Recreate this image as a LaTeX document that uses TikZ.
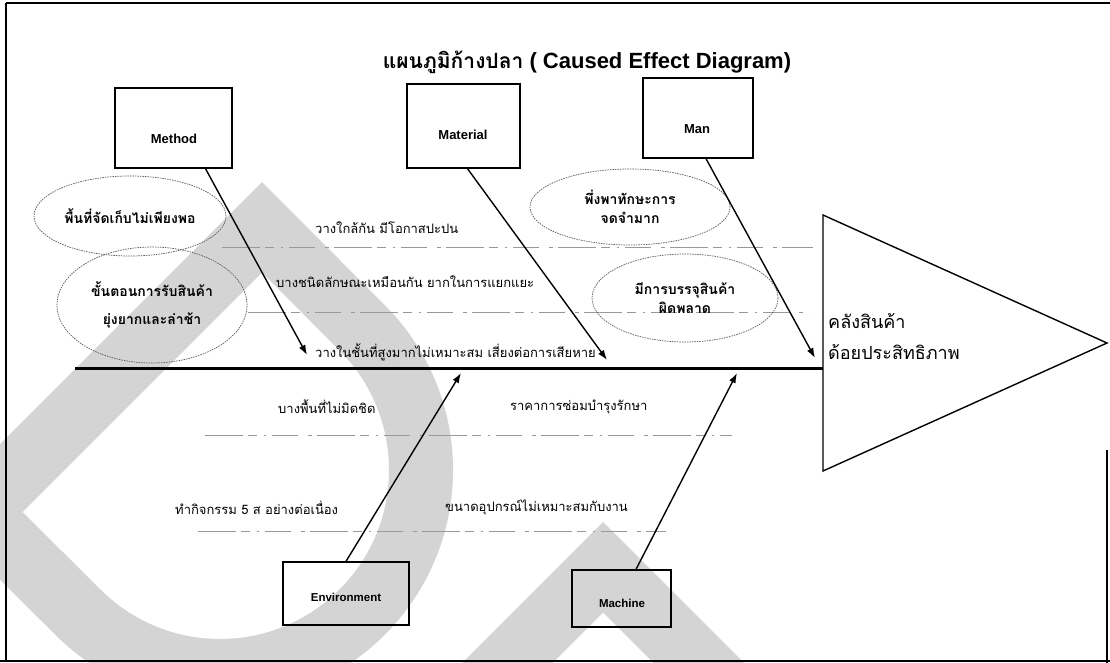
\documentclass[tikz,border=0pt]{standalone}
\usepackage{fontspec}
\setmainfont{Liberation Sans}
\newfontfamily\thai[Script=Thai]{Loma}
\usetikzlibrary{arrows.meta,shapes.geometric,calc}

\begin{document}
\begin{tikzpicture}[x=1pt,y=-1pt,
  every node/.style={inner sep=0pt},
  catbox/.style={draw=black, line width=1.3pt},
  catlabel/.style={font=\bfseries\fontsize{13}{15}\selectfont},
  causeoval/.style={ellipse, draw=black!65, line width=0.7pt,
    dash pattern=on 1.5pt off 1pt, align=center,
    font=\thai\bfseries\fontsize{14}{19}\selectfont},
  subcause/.style={anchor=west, font=\thai\fontsize{13}{15}\selectfont},
  bone/.style={line width=1.4pt, -{Latex[length=10pt,width=7pt]}},
  guide/.style={black!40, line width=0.6pt,
    dash pattern=on 38pt off 5pt on 9pt off 7pt on 2pt off 6pt on 26pt off 10pt on 4pt off 5pt},
  wmark/.style={black!17}
]
\useasboundingbox (0,0) rectangle (1110,663);
\clip (0,0) rectangle (1110,663);
\fill[white] (0,0) rectangle (1110,663);

% background letters
\fill[wmark, even odd rule]
  (-68,512) -- (262,182) -- (384.8,305.2) arc[start angle=-45, end angle=135, radius=233] -- cycle
  (262,272.5) -- (339.5,350.5) arc[start angle=-45, end angle=135, radius=169] -- (22.5,512) -- cycle;
\fill[wmark] (452,673) -- (603,522) -- (754,673) -- (663.5,673) -- (603,612.5) -- (542.5,673) -- cycle;

% frame
\draw[line width=1.8pt] (6,3) -- (1110,3);
\draw[line width=1.8pt] (6,3) -- (6,662);
\draw[line width=1.8pt] (0,661) -- (1110,661);
\draw[line width=1.4pt] (1107,450) -- (1107,663);

% title
\node (title) at (587,62) {{\thai\bfseries\fontsize{21}{24}\selectfont แผนภูมิก้างปลา}{\bfseries\fontsize{22}{24}\selectfont\ ( Caused Effect Diagram)}};

% guide lines between the causes
\draw[guide] (222,247) -- (813,247);
\draw[guide] (248,312) -- (808,312);
\draw[guide] (205,435) -- (732,435);
\draw[guide] (198,531) -- (666,531);

% category boxes
\node[catbox, minimum width=117pt, minimum height=80pt] (method) at (173.5,128) {};
\node[catbox, minimum width=113pt, minimum height=84pt] (material) at (463.5,126) {};
\node[catbox, minimum width=110pt, minimum height=80pt] (man) at (698,118) {};
\node[catbox, minimum width=126pt, minimum height=63pt] (environment) at (346,593.5) {};
\node[catbox, minimum width=99pt, minimum height=57pt] (machine) at (621.5,598.5) {};
\node[catlabel] (methodlbl) at (174,139) {Method};
\node[catlabel] (materiallbl) at (463,135) {Material};
\node[catlabel] (manlbl) at (697,129) {Man};
\node[catlabel, font=\bfseries\fontsize{11.5}{13}\selectfont] (envlbl) at (346,597) {Environment};
\node[catlabel, font=\bfseries\fontsize{11.5}{13}\selectfont] (machlbl) at (622,603) {Machine};

% cause ovals
\node[causeoval, minimum width=192pt, minimum height=80pt] (oval1) at (130,216) {พื้นที่จัดเก็บไม่เพียงพอ};
\node[causeoval, minimum width=190pt, minimum height=116pt,
  font=\thai\bfseries\fontsize{14}{28}\selectfont] (oval2) at (152,305) {ขั้นตอนการรับสินค้า\\ยุ่งยากและล่าช้า};
\node[causeoval, minimum width=200pt, minimum height=76pt] (oval3) at (630,207) {พึ่งพาทักษะการ\\จดจำมาก};
\node[causeoval, minimum width=186pt, minimum height=88pt] (oval4) at (685,298) {มีการบรรจุสินค้า\\ผิดพลาด};

% sub causes
\node[subcause] (s1) at (315,228) {วางใกล้กัน มีโอกาสปะปน};
\node[subcause] (s2) at (276,282) {บางชนิดลักษณะเหมือนกัน ยากในการแยกแยะ};
\node[subcause] (s3) at (315,352) {วางในชั้นที่สูงมากไม่เหมาะสม เสี่ยงต่อการเสียหาย};
\node[subcause] (s4) at (278,407) {บางพื้นที่ไม่มิดชิด};
\node[subcause] (s5) at (510,407) {ราคาการซ่อมบำรุงรักษา};
\node[subcause] (s6) at (175,508) {ทำกิจกรรม 5 ส อย่างต่อเนื่อง};
\node[subcause] (s7) at (445,507) {ขนาดอุปกรณ์ไม่เหมาะสมกับงาน};

% head of the fish
\coordinate (headtop) at (823,215);
\coordinate (headbot) at (823,471);
\coordinate (headtip) at (1107,343);
\draw[line width=1.4pt, line join=miter] (headtop) -- (headtip) -- (headbot) -- cycle;
\node[anchor=west, align=left, font=\thai\fontsize{18}{31}\selectfont] (effect) at (828,337) {คลังสินค้า\\ด้อยประสิทธิภาพ};

% spine
\coordinate (tail) at (75,368);
\coordinate (neck) at (823,368);
\draw[line width=3pt] (tail) -- (neck);

% bones
\coordinate (b1) at (307,355);
\coordinate (b2) at (607,360);
\coordinate (b3) at (815,358);
\coordinate (b4) at (461,373);
\coordinate (b5) at (737,373);
\draw[bone] ([xshift=32pt]method.south) -- (b1);
\draw[bone] ([xshift=4pt]material.south) -- (b2);
\draw[bone] ([xshift=8pt]man.south) -- (b3);
\draw[bone] (environment.north) -- (b4);
\draw[bone] ([xshift=14.5pt]machine.north) -- (b5);
\end{tikzpicture}
\end{document}
